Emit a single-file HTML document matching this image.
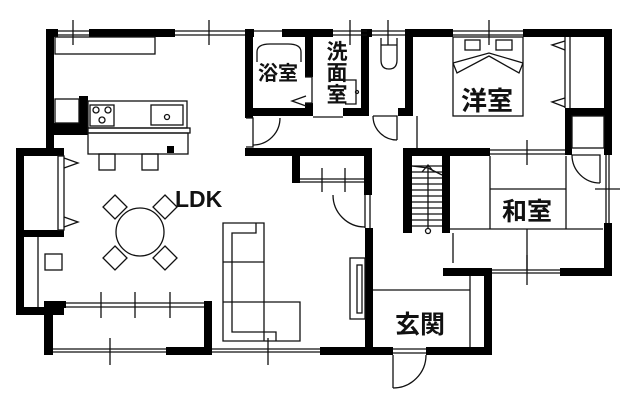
<!DOCTYPE html>
<html><head><meta charset="utf-8"><style>
html,body{margin:0;padding:0;background:#fff;width:640px;height:400px;overflow:hidden}
svg{display:block}
text{font-family:"Liberation Sans","Noto Sans CJK JP",sans-serif;font-weight:bold;fill:#111}
</style></head><body>
<svg width="640" height="400" viewBox="0 0 640 400" xmlns="http://www.w3.org/2000/svg">
<g fill="#000">
<rect x="46" y="29" width="12" height="8"/>
<rect x="89" y="29" width="86" height="8"/>
<rect x="245" y="29" width="9" height="8"/>
<rect x="282" y="29" width="51" height="8"/>
<rect x="367" y="29" width="5" height="8"/>
<rect x="405" y="29" width="48" height="8"/>
<rect x="523" y="29" width="89" height="8"/>
<rect x="46" y="29" width="8" height="127"/>
<rect x="16" y="148" width="48" height="8"/>
<rect x="16" y="148" width="8" height="167"/>
<rect x="24" y="230" width="40" height="7"/>
<rect x="16" y="307" width="48" height="8"/>
<rect x="44" y="301" width="22" height="7"/>
<rect x="44" y="301" width="9" height="54"/>
<rect x="204" y="301" width="8" height="54"/>
<rect x="166" y="347" width="46" height="8"/>
<rect x="320" y="347" width="73" height="8"/>
<rect x="426" y="347" width="66" height="8"/>
<rect x="245" y="29" width="8" height="89"/>
<rect x="245" y="108" width="68" height="8"/>
<rect x="305" y="29" width="8" height="48"/>
<rect x="305" y="103" width="8" height="13"/>
<rect x="343" y="108" width="26" height="8"/>
<rect x="361" y="29" width="8" height="87"/>
<rect x="405" y="29" width="8" height="87"/>
<rect x="398" y="108" width="15" height="8"/>
<rect x="245" y="148" width="127" height="8"/>
<rect x="292" y="156" width="8" height="27"/>
<rect x="364" y="148" width="8" height="47"/>
<rect x="365" y="228" width="8" height="127"/>
<rect x="403" y="148" width="87" height="8"/>
<rect x="403" y="148" width="9" height="85"/>
<rect x="442" y="148" width="8" height="85"/>
<rect x="604" y="29" width="8" height="126"/>
<rect x="565" y="108" width="47" height="8"/>
<rect x="565" y="108" width="7" height="47"/>
<rect x="604" y="223" width="8" height="53"/>
<rect x="443" y="268" width="49" height="8"/>
<rect x="560" y="268" width="52" height="8"/>
<rect x="484" y="268" width="8" height="87"/>
<rect x="79" y="96" width="9" height="39"/>
<rect x="54" y="123" width="34" height="12"/>
<rect x="167" y="146" width="7" height="7"/>
</g>
<g fill="none" stroke="#111" stroke-width="1.3">
<path d="M58 31H89M58 35H89M175 31H245M175 35H245M254 31H282M333 31H367M333 35H367M372 31H405M372 35H405M453 31H523M453 35H523"/>
<path d="M73 20V45M209 20V45M350 20V45M388 20V45M489 20V45"/>
<rect x="55" y="37" width="100" height="17"/>
<rect x="55" y="99" width="24" height="24"/>
<rect x="88" y="101" width="99" height="27"/>
<rect x="90" y="105" width="24" height="21"/>
<circle cx="96" cy="110" r="3"/><circle cx="108" cy="110" r="3"/><circle cx="102" cy="120" r="3"/>
<rect x="151" y="105" width="32" height="20"/>
<circle cx="167" cy="117" r="2.5"/>
<rect x="88" y="128" width="102" height="5"/>
<rect x="88" y="133" width="100" height="21"/>
<rect x="99" y="154" width="16" height="16"/>
<rect x="142" y="154" width="16" height="16"/>
<rect x="58" y="156" width="6" height="74"/>
<path d="M64 158L78 163L64 168M64 217L78 222L64 227"/>
<path d="M38 237V307"/>
<rect x="45" y="254" width="17" height="16"/>
<path d="M66 303H204M66 307H204M53 349H166M53 352H166M212 349H320M212 352H320"/>
<path d="M101 292V318M135 292V318M170 292V318M110 338V365M268 338V365"/>
<circle cx="140" cy="232" r="24"/>
<path d="M115 195L127 207L115 219L103 207Z M165 195L177 207L165 219L153 207Z M115 246L127 258L115 270L103 258Z M165 246L177 258L165 270L153 258Z"/>
<path d="M223 223H264V302H300V341H223Z"/>
<path d="M256 223V233H232V332H276V341M223 262H264M223 302H264M264 302V341"/>
<path d="M257 62V52Q257 44 270 44H288Q301 44 301 52V62"/>
<path d="M305 77H312V103H305"/>
<path d="M306 96L292 101L306 106"/>
<path d="M246 118H253V147H246"/>
<path d="M280 118A27 27 0 0 1 253 145"/>
<path d="M313 117H343"/>
<path d="M345 80H356V104H345"/>
<circle cx="357" cy="92" r="1.5"/>
<path d="M381 38V60Q381 69 389 69Q397 69 397 60V38M381 45H397"/>
<path d="M373 116H397V140M397 140A24 24 0 0 1 373 116"/>
<rect x="453" y="37" width="70" height="79"/>
<rect x="465" y="40" width="15" height="10"/>
<rect x="496" y="40" width="16" height="10"/>
<path d="M453 63L489 53L523 63M453 63L457 73L489 56L519 73L523 63"/>
<path d="M417 116V148"/>
<path d="M565 37V108M570 37V108"/>
<path d="M565 41L552 45L565 50M565 98L552 102L565 107"/>
<rect x="572" y="116" width="32" height="32"/>
<path d="M572 155H600V183M600 183A28 28 0 0 1 572 155"/>
<path d="M490 150H565M490 154H565M527 140V165"/>
<path d="M606 155V223M609 155V223M595 189H620"/>
<path d="M450 229H603M490 156V229M566 156V229M490 189H566M527 229V270M453 233V263"/>
<path d="M492 270H560M492 273H560M527 255V285"/>
<path d="M412 166H442M412 172H442M412 178H442M412 184H442M412 190H442M412 196H442M412 202H442M412 208H442M412 214H442M412 220H442M412 226H442"/>
<path d="M428 166V229M422 172L428 165L434 172M412 166L428 168L442 175"/>
<circle cx="428" cy="231" r="2.5" fill="#fff"/>
<path d="M300 179H364M300 182H364M322 168V192M345 168V192"/>
<path d="M365 195V228M370 195V228M333 195A32 32 0 0 0 365 227"/>
<rect x="350" y="258" width="15" height="61"/>
<rect x="357" y="265" width="5" height="48"/>
<path d="M373 290H470M470 276V347"/>
<path d="M393 349H426M393 353H426"/>
<path d="M393 355V388M426 355A33 33 0 0 1 393 388"/>
</g>
<text x="175" y="207" font-size="23">LDK</text>
<text x="278" y="80" font-size="20" text-anchor="middle">浴室</text>
<text x="337" y="59" font-size="21" text-anchor="middle">洗</text>
<text x="337" y="80" font-size="21" text-anchor="middle">面</text>
<text x="337" y="102" font-size="21" text-anchor="middle">室</text>
<text x="487" y="110" font-size="26" text-anchor="middle">洋室</text>
<text x="527" y="220" font-size="25" text-anchor="middle">和室</text>
<text x="420" y="333" font-size="25" text-anchor="middle">玄関</text>
</svg>
</body></html>
